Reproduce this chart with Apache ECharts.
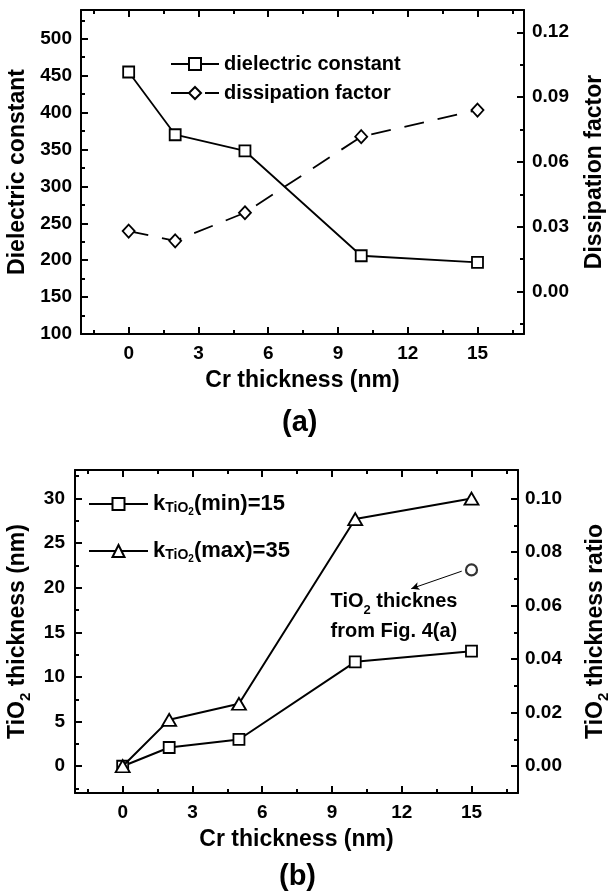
<!DOCTYPE html>
<html><head><meta charset="utf-8">
<script src="https://cdn.jsdelivr.net/npm/echarts@6/dist/echarts.min.js"></script>
<style>html,body{margin:0;padding:0;background:#fff}#c{width:608px;height:892px}</style>
</head><body><div id="c"></div>
<script>
// ---- data ----
const crThickness = [0, 2, 5, 10, 15];
const dielectricConstant = [455, 370, 348, 206, 197];
const dissipationFactor = [0.028, 0.0235, 0.0365, 0.0717, 0.084];
const tio2ThicknessMinK = [0, 2.1, 3.0, 11.7, 12.9];
const tio2ThicknessMaxK = [0, 5.2, 7.0, 27.7, 30.0];
const fig4aCr = [15];
const fig4aThickness = [22.0];

// ---- ticks ----
const xTickValues = [0, 3, 6, 9, 12, 15];
const xMinorTickValues = [-1.5, 1.5, 4.5, 7.5, 10.5, 13.5, 16.5];
const dielectricTicks = [100, 150, 200, 250, 300, 350, 400, 450, 500];
const dielectricMinorTicks = [125, 175, 225, 275, 325, 375, 425, 475, 525];
const dissipationTicks = [0, 0.03, 0.06, 0.09, 0.12];
const dissipationMinorTicks = [-0.015, 0.015, 0.045, 0.075, 0.105];
const thicknessTicks = [0, 5, 10, 15, 20, 25, 30];
const thicknessMinorTicks = [-2.5, 2.5, 7.5, 12.5, 17.5, 22.5, 27.5, 32.5];
const ratioTicks = [0, 0.02, 0.04, 0.06, 0.08, 0.10];
const ratioMinorTicks = [0.01, 0.03, 0.05, 0.07, 0.09];

// ---- annotation (data units) ----
const arrowFrom = [14.58, 21.86];
const arrowTo = [12.41, 19.9];
const noteAnchor = [8.94, 16.74];

const FONT = '"Liberation Sans", Arial, Helvetica, sans-serif';
const BLACK = '#000';

function axisPair(gridIndex, position, min, max, major, minor, extra) {
  extra = extra || {};
  const main = {
    type: 'value', gridIndex: gridIndex, position: position, min: min, max: max,
    axisLine: { show: true, onZero: false, lineStyle: { color: BLACK, width: 2 } },
    axisTick: { show: true, inside: true, length: 7, customValues: major, lineStyle: { color: BLACK, width: 2 } },
    axisLabel: extra.label ? Object.assign({
      show: true, customValues: major, color: BLACK, fontSize: 19, fontWeight: 'bold', fontFamily: FONT
    }, extra.label) : { show: false },
    splitLine: { show: false }
  };
  if (extra.name) {
    Object.assign(main, {
      name: extra.name, nameLocation: 'middle', nameGap: extra.nameGap,
      nameRotate: extra.nameRotate,
      nameTextStyle: Object.assign({ color: BLACK, fontSize: 23, fontWeight: 'bold', fontFamily: FONT }, extra.nameStyle || {})
    });
  }
  const min2 = {
    type: 'value', gridIndex: gridIndex, position: position, min: min, max: max,
    axisLine: { show: false, onZero: false },
    axisTick: { show: true, inside: true, length: 4, customValues: minor, lineStyle: { color: BLACK, width: 2 } },
    axisLabel: { show: false },
    splitLine: { show: false }
  };
  return [main, min2];
}

const fmt2 = v => v.toFixed(2);
const subRich = {
  sub: { fontSize: 15, fontWeight: 'bold', fontFamily: FONT, color: BLACK, verticalAlign: 'bottom', lineHeight: 15 }
};

const X_MIN = -2.05, X_MAX = 17;

const xAxes = [].concat(
  axisPair(0, 'bottom', X_MIN, X_MAX, xTickValues, xMinorTickValues,
    { label: { margin: 10 }, name: 'Cr thickness (nm)', nameGap: 35 }),
  axisPair(0, 'top', X_MIN, X_MAX, xTickValues, xMinorTickValues),
  axisPair(1, 'bottom', X_MIN, X_MAX, xTickValues, xMinorTickValues,
    { label: { margin: 10 }, name: 'Cr thickness (nm)', nameGap: 35 }),
  axisPair(1, 'top', X_MIN, X_MAX, xTickValues, xMinorTickValues)
);

const yAxes = [].concat(
  axisPair(0, 'left', 100, 539, dielectricTicks, dielectricMinorTicks,
    { label: { margin: 9 }, name: 'Dielectric constant', nameGap: 50, nameRotate: 90 }),
  axisPair(0, 'right', -0.0196, 0.1303, dissipationTicks, dissipationMinorTicks,
    { label: { margin: 8, formatter: fmt2 }, name: 'Dissipation factor', nameGap: 59, nameRotate: 90 }),
  axisPair(1, 'left', -3, 33.2, thicknessTicks, thicknessMinorTicks,
    { label: { margin: 10 }, name: 'TiO{sub|2} thickness (nm)', nameGap: 40, nameRotate: 90,
      nameStyle: { lineHeight: 30, rich: subRich } }),
  axisPair(1, 'right', -0.01, 0.11067, ratioTicks, ratioMinorTicks,
    { label: { margin: 7, formatter: fmt2 }, name: 'TiO{sub|2} thickness ratio', nameGap: 63, nameRotate: 90,
      nameStyle: { lineHeight: 30, rich: subRich } })
);

const zip = (xs, ys) => xs.map((x, i) => [x, ys[i]]);

const hollow = { color: '#fff', borderColor: BLACK, borderWidth: 1.8 };

const option = {
  backgroundColor: '#fff',
  animation: false,
  textStyle: { fontFamily: FONT },
  grid: [
    { left: 81, top: 10, width: 443, height: 324, containLabel: false, outerBoundsMode: 'none' },
    { left: 75, top: 470, width: 443, height: 323, containLabel: false, outerBoundsMode: 'none' }
  ],
  xAxis: xAxes,
  yAxis: yAxes,
  legend: [
    {
      data: ['dielectric constant', 'dissipation factor'],
      orient: 'vertical', left: 170, top: 54, padding: 0,
      itemWidth: 48, itemHeight: 15, itemGap: 9,
      textStyle: { color: BLACK, fontSize: 20, fontWeight: 'bold', fontFamily: FONT, lineHeight: 20 }
    },
    {
      data: ['kmin', 'kmax'],
      orient: 'vertical', left: 88, top: 491, padding: 0,
      itemWidth: 59, itemHeight: 15, itemGap: 21,
      formatter: n => n === 'kmin' ? 'k{s|TiO}{ss|2}(min)=15' : 'k{s|TiO}{ss|2}(max)=35',
      textStyle: {
        color: BLACK, fontSize: 22, fontWeight: 'bold', fontFamily: FONT, lineHeight: 26,
        rich: {
          s: { fontSize: 14, fontWeight: 'bold', fontFamily: FONT, color: BLACK, verticalAlign: 'bottom', lineHeight: 14, padding: [0, 0, 2, 0] },
          ss: { fontSize: 10, fontWeight: 'bold', fontFamily: FONT, color: BLACK, verticalAlign: 'bottom', lineHeight: 10 }
        }
      }
    }
  ],
  title: [
    { text: '(a)', left: 282, top: 408, padding: 0, textStyle: { fontSize: 29, fontWeight: 'bold', color: BLACK, fontFamily: FONT } },
    { text: '(b)', left: 279, top: 862, padding: 0, textStyle: { fontSize: 29, fontWeight: 'bold', color: BLACK, fontFamily: FONT } }
  ],
  series: [
    {
      name: 'dielectric constant', type: 'line', xAxisIndex: 0, yAxisIndex: 0,
      data: zip(crThickness, dielectricConstant),
      symbol: 'rect', symbolSize: 11,
      lineStyle: { color: BLACK, width: 1.8 },
      itemStyle: hollow, z: 3
    },
    {
      name: 'dissipation factor', type: 'line', xAxisIndex: 0, yAxisIndex: 2,
      data: zip(crThickness, dissipationFactor),
      symbol: 'diamond', symbolSize: [12, 13],
      lineStyle: { color: BLACK, width: 1.8, type: [20, 14] },
      itemStyle: hollow, z: 3
    },
    {
      name: 'kmin', type: 'line', xAxisIndex: 4, yAxisIndex: 4,
      data: zip(crThickness, tio2ThicknessMinK),
      symbol: 'rect', symbolSize: 11,
      lineStyle: { color: BLACK, width: 2 },
      itemStyle: hollow, z: 3
    },
    {
      name: 'kmax', type: 'line', xAxisIndex: 4, yAxisIndex: 4,
      data: zip(crThickness, tio2ThicknessMaxK),
      symbol: 'triangle', symbolSize: [14, 12],
      lineStyle: { color: BLACK, width: 2 },
      itemStyle: hollow, z: 4
    },
    {
      name: 'fig4a', type: 'scatter', xAxisIndex: 4, yAxisIndex: 4,
      data: zip(fig4aCr, fig4aThickness),
      symbol: 'circle', symbolSize: 11,
      itemStyle: { color: '#fff', borderColor: BLACK, borderWidth: 2.2 }, z: 3,
      markLine: {
        silent: true, symbol: ['none', 'arrow'], symbolSize: [6, 8],
        lineStyle: { color: BLACK, width: 1, type: 'solid' },
        label: { show: false },
        data: [[{ coord: arrowFrom }, { coord: arrowTo }]]
      },
      markPoint: {
        silent: true, symbol: 'circle', symbolSize: 0,
        itemStyle: { color: 'transparent' },
        label: {
          show: true, position: 'right', distance: 0,
          formatter: 'TiO{sub|2} thicknes\nfrom Fig. 4(a)',
          color: BLACK, fontSize: 20, fontWeight: 'bold', fontFamily: FONT, lineHeight: 30, align: 'left',
          rich: { sub: { fontSize: 13, fontWeight: 'bold', fontFamily: FONT, color: BLACK, verticalAlign: 'bottom', lineHeight: 13 } }
        },
        data: [{ coord: noteAnchor }]
      }
    }
  ]
};

const chart = echarts.init(document.getElementById('c'), null, { renderer: 'canvas' });
chart.setOption(option);
</script>
</body></html>
